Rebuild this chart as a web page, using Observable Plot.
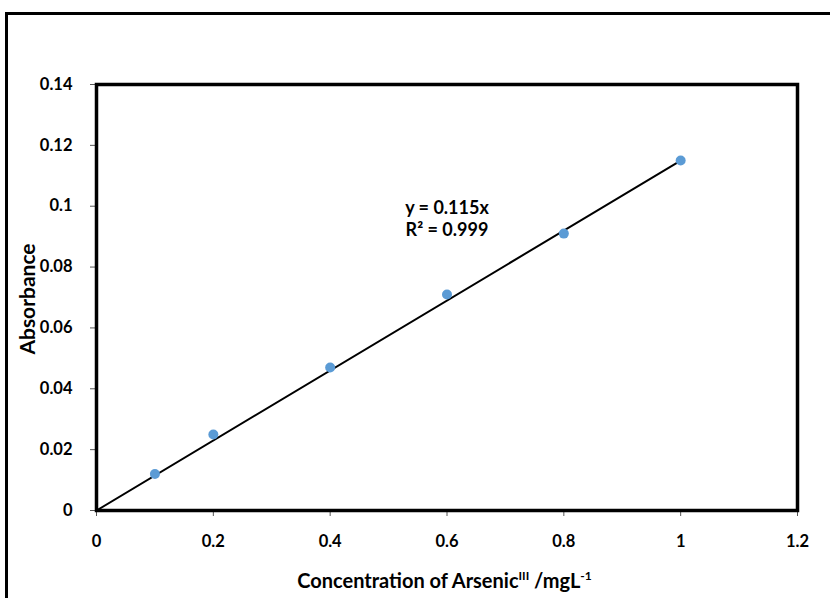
<!DOCTYPE html>
<html>
<head>
<meta charset="utf-8">
<script src="https://cdn.jsdelivr.net/npm/d3@7"></script>
<script src="https://cdn.jsdelivr.net/npm/@observablehq/plot@0.6"></script>
<style>
  html, body { margin: 0; padding: 0; background: #fff; overflow: hidden; width: 830px; height: 598px; }
  #wrap { position: relative; width: 830px; height: 598px; }
  #outer { position: absolute; left: 5px; top: 12px; width: 840px; height: 620px; border: 3.5px solid #000; box-sizing: border-box; }
  #chart { position: absolute; left: 0; top: 0; }
  svg { font-family: Lato, "Open Sans", sans-serif; font-weight: 700; }
</style>
</head>
<body>
<div id="wrap"><div id="outer"></div><div id="chart"></div></div>
<script>
const concentration = [0.1, 0.2, 0.4, 0.6, 0.8, 1.0];
const absorbance = [0.012, 0.025, 0.047, 0.071, 0.091, 0.115];
const slope = 0.115;
const trendX = [0, 1.0];
const xTicks = [0, 0.2, 0.4, 0.6, 0.8, 1.0, 1.2];
const yTicks = [0, 0.02, 0.04, 0.06, 0.08, 0.1, 0.12, 0.14];
const equationText = "y = 0.115x";
const r2Text = "R² = 0.999";
const xTitle = ["Concentration of Arsenic", "III", " /mgL", "-1"];
const yTitle = "Absorbance";

const points = concentration.map((c, i) => ({x: c, y: absorbance[i]}));
const trend = trendX.map(x => ({x, y: slope * x}));
const fmt = d => String(+d.toFixed(2));

const plot = Plot.plot({
  width: 830,
  height: 598,
  marginLeft: 96,
  marginRight: 33,
  marginTop: 84,
  marginBottom: 88,
  style: {fontFamily: "Lato, 'Open Sans', sans-serif", fontSize: "16.5px", fontWeight: 700, color: "#000", background: "transparent"},
  x: {domain: [0, 1.2], label: null},
  y: {domain: [0, 0.14], label: null},
  marks: [
    Plot.axisX({ticks: xTicks, tickFormat: fmt, tickSize: 6, tickPadding: 19, stroke: "#555", fill: "#000", label: null, fontSize: 16.5, fontWeight: 700}),
    Plot.axisY({ticks: yTicks, tickFormat: fmt, tickSize: 6, tickPadding: 18, stroke: "#555", fill: "#000", label: null, fontSize: 16.5, fontWeight: 700}),
    Plot.line(trend, {x: "x", y: "y", stroke: "#000", strokeWidth: 2}),
    Plot.dot(points, {x: "x", y: "y", r: 5, fill: "#5B9BD5", stroke: "none"}),
    Plot.text([{x: 0.6, y: 0.0995, t: equationText}, {x: 0.6, y: 0.0922, t: r2Text}], {x: "x", y: "y", text: "t", fontSize: 18, fontWeight: 700, fill: "#000", textAnchor: "middle"}),
    Plot.frame({stroke: "#000", strokeWidth: 3.5})
  ]
});

document.getElementById("chart").appendChild(plot);

const sx = plot.scale("x"), sy = plot.scale("y");
const svg = d3.select(plot);
const cx = (sx.range[0] + sx.range[1]) / 2;
const cy = (sy.range[0] + sy.range[1]) / 2;

const xt = svg.append("text")
  .attr("x", cx - 2).attr("y", 588)
  .attr("text-anchor", "middle")
  .attr("font-size", 20).attr("font-weight", 700).attr("fill", "#000");
xt.append("tspan").text(xTitle[0]);
xt.append("tspan").attr("font-size", 12).attr("dy", -8).text(xTitle[1]);
xt.append("tspan").attr("dy", 8).text(xTitle[2]);
xt.append("tspan").attr("font-size", 12).attr("dy", -8).text(xTitle[3]);

svg.append("text")
  .attr("transform", `translate(35,${cy + 2}) rotate(-90)`)
  .attr("text-anchor", "middle")
  .attr("font-size", 21).attr("font-weight", 700).attr("fill", "#000")
  .text(yTitle);
</script>
</body>
</html>
